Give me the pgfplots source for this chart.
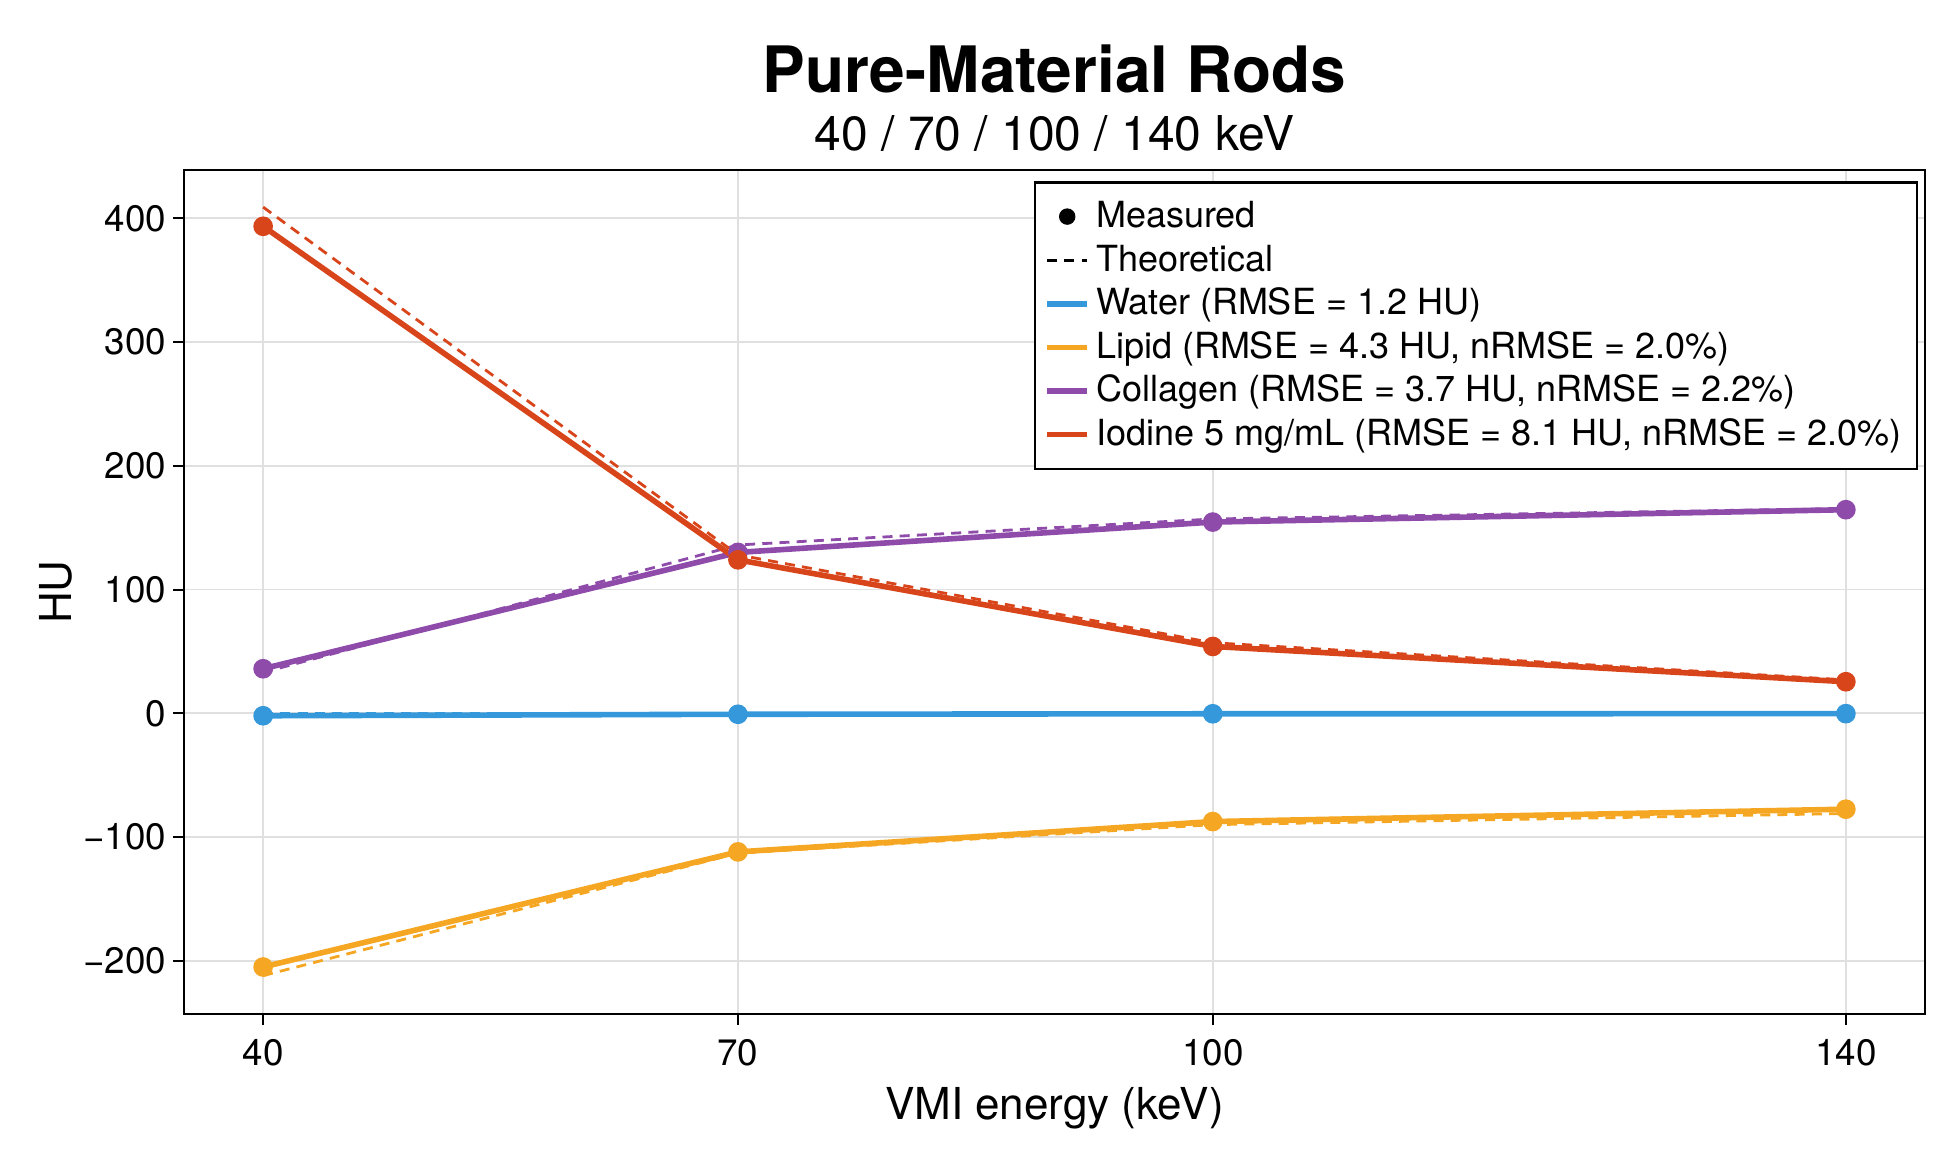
\documentclass[border=0pt]{standalone}
\usepackage{fontspec}
\setmainfont{TeX Gyre Heros}
\usepackage{pgfplots}
\pgfplotsset{compat=1.18}
\definecolor{cwater}{HTML}{3498DB}
\definecolor{clipid}{HTML}{F5A623}
\definecolor{ccoll}{HTML}{8E4BAA}
\definecolor{ciod}{HTML}{D8451B}
\begin{document}
\begin{tikzpicture}
\useasboundingbox (-46pt,-36.5pt) rectangle (444pt,253.5pt);
\begin{axis}[
  scale only axis, width=435.25pt, height=211pt,
  xmin=35, xmax=145, ymin=-243, ymax=439,
  xtick={40,70,100,140}, xticklabels={40,70,100,140},
  ytick={-200,-100,0,100,200,300,400},
  yticklabels={−200,−100,0,100,200,300,400},
  tick pos=left,
  tick align=outside, major tick length=2.7pt,
  tick style={black, line width=0.5pt},
  axis line style={line width=0.6pt},
  grid=major, grid style={black!12, line width=0.4pt},
  tick label style={font=\fontsize{9.2}{11}\selectfont},
  xticklabel style={yshift=0pt},
  yticklabel style={xshift=1.8pt},
  legend image code/.code={\draw[mark repeat=2,mark phase=2,#1] plot coordinates {(0pt,0pt) (5pt,0pt) (10pt,0pt)};},
  legend style={at={(1,1)}, anchor=north east, xshift=-1.7pt, yshift=-2.8pt,
    draw=black, line width=0.6pt, fill=white, inner xsep=2.4pt, inner ysep=3.1pt,
    font=\fontsize{9}{10.5}\selectfont, row sep=0pt,
    nodes={inner ysep=1.2pt, inner xsep=1.5pt, text height=7.0pt, text depth=1.5pt}},
  legend cell align=left,
]
% theoretical (dashed)
\addplot[forget plot, cwater, line width=0.7pt, dash pattern=on 2.5pt off 1.8pt] coordinates {(40,0) (70,0) (100,0) (140,0)};
\addplot[forget plot, clipid, line width=0.7pt, dash pattern=on 2.5pt off 1.8pt] coordinates {(40,-212) (70,-113) (100,-90) (140,-81)};
\addplot[forget plot, ccoll, line width=0.7pt, dash pattern=on 2.5pt off 1.8pt] coordinates {(40,33) (70,136) (100,157) (140,165.5)};
\addplot[forget plot, ciod, line width=0.7pt, dash pattern=on 2.5pt off 1.8pt] coordinates {(40,409) (70,128) (100,57) (140,27)};
% measured
\addplot[forget plot, cwater, line width=1.4pt, mark=*, mark size=1.75pt, mark options={solid}] coordinates {(40,-2) (70,-0.8) (100,-0.4) (140,-0.3)};
\addplot[forget plot, clipid, line width=1.4pt, mark=*, mark size=1.75pt, mark options={solid}] coordinates {(40,-205) (70,-112) (100,-87.5) (140,-77.5)};
\addplot[forget plot, ccoll, line width=1.4pt, mark=*, mark size=1.75pt, mark options={solid}] coordinates {(40,36) (70,130) (100,154.5) (140,164.5)};
\addplot[forget plot, ciod, line width=1.4pt, mark=*, mark size=1.75pt, mark options={solid}] coordinates {(40,393.5) (70,124) (100,54) (140,25.5)};
% legend
\addlegendimage{only marks, mark=*, black, mark size=1.75pt}
\addlegendentry{Measured}
\addlegendimage{black, line width=0.7pt, dash pattern=on 2.5pt off 1.8pt}
\addlegendentry{Theoretical}
\addlegendimage{cwater, line width=1.4pt}
\addlegendentry{Water (RMSE = 1.2 HU)}
\addlegendimage{clipid, line width=1.4pt}
\addlegendentry{Lipid (RMSE = 4.3 HU, nRMSE = 2.0\%)}
\addlegendimage{ccoll, line width=1.4pt}
\addlegendentry{Collagen (RMSE = 3.7 HU, nRMSE = 2.2\%)}
\addlegendimage{ciod, line width=1.4pt}
\addlegendentry{Iodine 5 mg/mL (RMSE = 8.1 HU, nRMSE = 2.0\%)}
\end{axis}
\node[anchor=base, font=\bfseries\fontsize{16}{19}\selectfont] at (217.6pt,230.4pt) {Pure-Material Rods};
\node[anchor=base, font=\fontsize{12}{14}\selectfont] at (217.6pt,216pt) {40 / 70 / 100 / 140 keV};
\node[anchor=base, font=\fontsize{11}{13}\selectfont] at (217.6pt,-26.25pt) {VMI energy (keV)};
\node[rotate=90, anchor=center, font=\fontsize{11}{13}\selectfont] at (-32pt,105.5pt) {HU};
\end{tikzpicture}
\end{document}
